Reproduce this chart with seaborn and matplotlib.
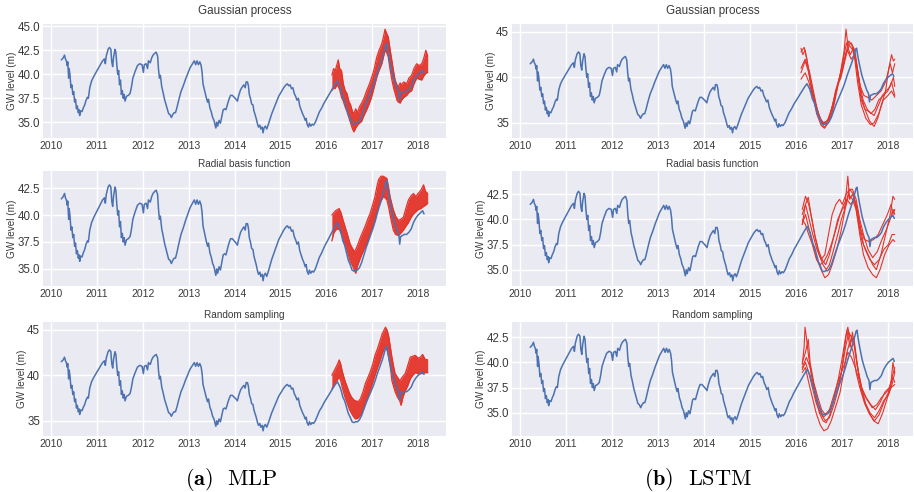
import matplotlib
matplotlib.use("Agg")
import matplotlib.pyplot as plt
import seaborn as sns
import pandas as pd
from matplotlib.ticker import MultipleLocator, FormatStrFormatter

# ---------------- observed groundwater level (blue) ----------------
obs_t = [2010.22, 2010.26, 2010.29, 2010.31, 2010.33, 2010.35, 2010.36, 2010.38, 2010.39, 2010.41,
         2010.43, 2010.45, 2010.47, 2010.49, 2010.51, 2010.53, 2010.55, 2010.57, 2010.59, 2010.61,
         2010.62, 2010.64, 2010.67, 2010.70, 2010.73, 2010.76, 2010.79, 2010.81, 2010.84, 2010.88,
         2010.93, 2011.00, 2011.06, 2011.12, 2011.16, 2011.18, 2011.20, 2011.24, 2011.27, 2011.30,
         2011.32, 2011.34, 2011.36, 2011.39, 2011.41, 2011.43, 2011.45, 2011.47, 2011.49, 2011.51,
         2011.53, 2011.55, 2011.57, 2011.59, 2011.61, 2011.64, 2011.68, 2011.72, 2011.75, 2011.78,
         2011.83, 2011.88, 2011.93, 2011.98, 2012.01, 2012.03, 2012.07, 2012.10, 2012.12, 2012.16,
         2012.19, 2012.22, 2012.26, 2012.29, 2012.32, 2012.34, 2012.36, 2012.38, 2012.41, 2012.44,
         2012.47, 2012.50, 2012.53, 2012.56, 2012.59, 2012.62, 2012.65, 2012.68, 2012.71, 2012.74,
         2012.78, 2012.83, 2012.88, 2012.93, 2012.98, 2013.03, 2013.08, 2013.12, 2013.15, 2013.18,
         2013.21, 2013.24, 2013.27, 2013.29, 2013.31, 2013.33, 2013.36, 2013.38, 2013.41, 2013.43,
         2013.46, 2013.49, 2013.52, 2013.55, 2013.57, 2013.59, 2013.61, 2013.63, 2013.66, 2013.69,
         2013.72, 2013.75, 2013.78, 2013.81, 2013.84, 2013.87, 2013.91, 2013.95, 2013.99, 2014.03,
         2014.06, 2014.09, 2014.13, 2014.17, 2014.20, 2014.23, 2014.25, 2014.28, 2014.30, 2014.32,
         2014.35, 2014.37, 2014.40, 2014.42, 2014.45, 2014.47, 2014.50, 2014.52, 2014.55, 2014.57,
         2014.60, 2014.62, 2014.64, 2014.67, 2014.70, 2014.73, 2014.77, 2014.81, 2014.86, 2014.91,
         2014.96, 2015.02, 2015.07, 2015.12, 2015.15, 2015.18, 2015.21, 2015.24, 2015.27, 2015.30,
         2015.33, 2015.36, 2015.39, 2015.42, 2015.45, 2015.48, 2015.51, 2015.54, 2015.56, 2015.58,
         2015.61, 2015.63, 2015.66, 2015.69, 2015.72, 2015.76, 2015.80, 2015.85, 2015.90, 2015.95,
         2016.00, 2016.06, 2016.12, 2016.17, 2016.21, 2016.24, 2016.27, 2016.30, 2016.33, 2016.36,
         2016.40, 2016.44, 2016.48, 2016.52, 2016.56, 2016.60, 2016.64, 2016.68, 2016.72, 2016.77,
         2016.82, 2016.87, 2016.92, 2016.97, 2017.02, 2017.07, 2017.12, 2017.17, 2017.22, 2017.26,
         2017.30, 2017.32, 2017.34, 2017.37, 2017.40, 2017.43, 2017.46, 2017.50, 2017.54, 2017.58,
         2017.60, 2017.62, 2017.66, 2017.70, 2017.75, 2017.80, 2017.85, 2017.90, 2017.95, 2018.00,
         2018.05, 2018.10, 2018.13]
obs_v = [41.5, 41.7, 42.0, 41.6, 41.4, 40.9, 41.3, 39.6, 40.6, 39.9,
         38.6, 38.9, 37.9, 38.2, 37.1, 37.4, 36.4, 36.7, 36.0, 36.3,
         35.7, 36.2, 36.1, 36.5, 36.8, 37.3, 37.6, 37.5, 38.6, 39.3,
         39.8, 40.4, 40.9, 41.4, 41.6, 41.1, 41.9, 42.6, 42.8, 42.6,
         41.3, 40.8, 41.8, 42.6, 42.3, 41.0, 40.0, 40.4, 38.9, 39.4,
         37.9, 38.3, 37.5, 37.9, 37.2, 37.7, 37.8, 38.0, 38.7, 39.6,
         40.3, 40.9, 41.1, 41.0, 40.2, 41.0, 41.1, 40.6, 41.4, 41.2,
         41.7, 42.0, 42.2, 42.3, 41.9, 40.5, 39.6, 39.9, 38.7, 38.1,
         37.4, 36.9, 36.4, 35.9, 35.8, 35.5, 35.8, 36.0, 36.0, 36.5,
         37.3, 38.2, 38.8, 39.5, 40.1, 40.7, 41.1, 41.4, 41.0, 41.4,
         41.0, 41.3, 40.9, 40.2, 39.0, 38.6, 38.0, 37.6, 37.1, 37.4,
         36.5, 36.1, 35.5, 35.2, 34.8, 34.4, 35.0, 34.6, 35.2, 34.9,
         35.6, 36.3, 36.4, 36.3, 36.8, 37.3, 37.8, 37.8, 37.6, 37.4,
         37.2, 37.8, 38.4, 38.7, 38.9, 38.6, 39.2, 39.2, 38.8, 37.9,
         37.4, 36.9, 36.8, 36.2, 35.7, 35.4, 34.8, 34.5, 34.7, 34.3,
         34.5, 33.9, 34.4, 34.6, 34.3, 34.7, 35.3, 35.9, 36.5, 37.1,
         37.7, 38.2, 38.6, 38.9, 39.0, 38.8, 38.9, 38.5, 38.6, 38.0,
         37.7, 37.3, 37.5, 36.7, 36.3, 35.9, 35.6, 35.2, 35.4, 34.8,
         34.5, 34.9, 34.6, 34.8, 34.7, 35.0, 35.5, 36.1, 36.5, 37.0,
         37.4, 37.9, 38.4, 38.8, 39.1, 39.3, 39.0, 38.7, 38.2, 37.6,
         37.2, 36.5, 35.8, 35.4, 34.9, 34.8, 34.9, 34.9, 35.1, 35.6,
         36.3, 37.0, 37.6, 38.2, 38.8, 39.5, 40.3, 41.0, 41.7, 42.4,
         43.1, 43.2, 42.5, 41.7, 41.0, 40.3, 39.8, 39.2, 38.6, 38.2,
         37.3, 38.0, 38.1, 38.2, 38.2, 38.4, 38.7, 39.3, 39.7, 40.0,
         40.2, 40.4, 40.1]

# ---------------- MLP ensemble spread (red band): time, low, high ----------------
mlp_gp_t = [2016.12, 2016.16, 2016.19, 2016.23, 2016.26, 2016.29, 2016.33, 2016.37, 2016.41, 2016.45,
            2016.49, 2016.53, 2016.57, 2016.60, 2016.64, 2016.68, 2016.72, 2016.77, 2016.82, 2016.88,
            2016.94, 2016.99, 2017.04, 2017.10, 2017.15, 2017.21, 2017.25, 2017.28, 2017.32, 2017.35,
            2017.39, 2017.43, 2017.47, 2017.50, 2017.54, 2017.57, 2017.61, 2017.64, 2017.69, 2017.75,
            2017.80, 2017.86, 2017.91, 2017.97, 2018.02, 2018.08, 2018.12, 2018.17, 2018.21]
mlp_gp_lo = [38.3, 38.6, 38.5, 38.9, 38.7, 38.4, 37.6, 37.2, 36.6, 36.1,
             35.5, 34.9, 34.3, 34.0, 34.4, 34.7, 34.9, 35.1, 35.7, 36.3,
             37.0, 37.7, 38.6, 39.7, 40.4, 41.1, 41.9, 42.5, 42.2, 41.8,
             40.5, 39.4, 38.5, 38.0, 37.3, 37.1, 37.0, 37.3, 37.6, 37.8,
             38.1, 38.3, 39.0, 39.6, 39.5, 39.4, 39.8, 40.1, 40.2]
mlp_gp_hi = [39.9, 40.6, 40.3, 41.0, 41.5, 40.6, 40.4, 39.0, 38.3, 38.0,
             37.2, 36.8, 36.1, 35.9, 36.4, 36.0, 36.6, 37.0, 37.5, 38.3,
             39.0, 39.7, 40.5, 41.8, 42.5, 43.2, 44.0, 44.7, 44.2, 43.9,
             42.6, 41.4, 40.2, 39.4, 38.9, 38.7, 39.1, 38.9, 39.2, 39.0,
             39.6, 39.9, 40.6, 41.1, 40.9, 41.1, 41.6, 42.5, 41.9]

mlp_rbf_t = [2016.12, 2016.16, 2016.20, 2016.24, 2016.28, 2016.32, 2016.36, 2016.41, 2016.46, 2016.52,
             2016.57, 2016.61, 2016.64, 2016.68, 2016.74, 2016.80, 2016.85, 2016.90, 2016.95, 2017.00,
             2017.06, 2017.10, 2017.14, 2017.19, 2017.24, 2017.28, 2017.32, 2017.36, 2017.39, 2017.43,
             2017.46, 2017.51, 2017.57, 2017.62, 2017.68, 2017.74, 2017.79, 2017.85, 2017.90, 2017.95,
             2018.00, 2018.06, 2018.12, 2018.16, 2018.21]
mlp_rbf_lo = [37.6, 38.3, 38.6, 38.7, 38.7, 38.3, 37.8, 37.3, 36.6, 35.7,
              35.3, 34.9, 34.6, 35.3, 36.0, 36.6, 37.1, 37.6, 38.2, 38.8,
              39.5, 40.2, 40.8, 41.3, 41.7, 41.6, 41.4, 40.7, 40.0, 39.2,
              38.6, 38.2, 38.1, 38.3, 38.6, 39.0, 39.3, 39.8, 40.1, 40.3,
              40.5, 40.6, 40.8, 40.9, 41.1]
mlp_rbf_hi = [40.0, 40.2, 40.4, 40.5, 40.6, 40.2, 39.6, 38.9, 38.2, 37.3,
              36.9, 36.6, 36.8, 37.2, 37.9, 38.5, 39.0, 39.6, 40.1, 40.8,
              41.7, 42.6, 43.3, 43.6, 43.6, 43.5, 43.4, 42.5, 41.7, 41.0,
              40.5, 39.9, 39.5, 39.6, 39.8, 40.7, 41.4, 41.8, 42.0, 41.7,
              42.0, 42.3, 42.8, 42.2, 42.0]

mlp_rs_t = [2016.12, 2016.16, 2016.20, 2016.24, 2016.28, 2016.31, 2016.35, 2016.40, 2016.45, 2016.50,
            2016.55, 2016.60, 2016.64, 2016.69, 2016.74, 2016.80, 2016.85, 2016.90, 2016.95, 2017.01,
            2017.06, 2017.12, 2017.17, 2017.22, 2017.26, 2017.29, 2017.33, 2017.36, 2017.40, 2017.43,
            2017.47, 2017.50, 2017.55, 2017.60, 2017.63, 2017.67, 2017.72, 2017.77, 2017.83, 2017.88,
            2017.94, 2018.00, 2018.05, 2018.10, 2018.15, 2018.21]
mlp_rs_lo = [38.5, 38.9, 39.3, 39.5, 39.8, 39.5, 38.6, 37.7, 37.0, 36.3,
             35.8, 35.4, 35.2, 35.3, 35.6, 36.2, 36.9, 37.6, 38.3, 39.2,
             40.0, 40.9, 41.6, 42.4, 42.9, 43.1, 42.7, 42.0, 40.7, 39.4,
             38.7, 38.2, 37.6, 37.2, 36.7, 37.6, 38.3, 38.8, 39.6, 40.0,
             40.3, 40.2, 40.2, 40.2, 40.3, 40.3]
mlp_rs_hi = [40.0, 40.4, 40.8, 41.2, 41.7, 41.3, 40.4, 39.5, 38.8, 38.1,
             37.6, 37.3, 37.2, 37.1, 37.4, 38.2, 39.1, 39.7, 40.3, 41.2,
             42.2, 43.0, 43.8, 44.6, 45.0, 45.3, 44.9, 44.3, 43.0, 42.0,
             40.9, 40.2, 39.8, 39.4, 39.6, 39.9, 40.2, 41.0, 42.0, 42.1,
             42.2, 41.9, 42.0, 42.3, 41.8, 41.7]

# ---------------- LSTM ensemble members (red lines) ----------------
lstm_gp_t = [
    [2016.11, 2016.15, 2016.20, 2016.25, 2016.30, 2016.38, 2016.45, 2016.55, 2016.62, 2016.70, 2016.78,
     2016.88, 2016.97, 2017.05, 2017.09, 2017.13, 2017.20, 2017.28, 2017.35, 2017.42, 2017.50, 2017.60,
     2017.70, 2017.78, 2017.86, 2017.95, 2018.02, 2018.08, 2018.12, 2018.15],
    [2016.11, 2016.20, 2016.28, 2016.36, 2016.45, 2016.55, 2016.63, 2016.72, 2016.80, 2016.90, 2017.00,
     2017.08, 2017.16, 2017.24, 2017.30, 2017.38, 2017.46, 2017.55, 2017.63, 2017.72, 2017.80, 2017.90,
     2018.00, 2018.08, 2018.15],
    [2016.11, 2016.18, 2016.24, 2016.30, 2016.40, 2016.50, 2016.58, 2016.68, 2016.78, 2016.86, 2016.95,
     2017.03, 2017.10, 2017.18, 2017.25, 2017.32, 2017.40, 2017.48, 2017.56, 2017.65, 2017.75, 2017.85,
     2017.95, 2018.05, 2018.10, 2018.15],
    [2016.11, 2016.20, 2016.28, 2016.35, 2016.45, 2016.55, 2016.62, 2016.70, 2016.78, 2016.85, 2016.93,
     2017.02, 2017.08, 2017.15, 2017.22, 2017.28, 2017.34, 2017.42, 2017.52, 2017.62, 2017.70, 2017.80,
     2017.90, 2018.00, 2018.08, 2018.15],
    [2016.11, 2016.20, 2016.27, 2016.33, 2016.43, 2016.52, 2016.60, 2016.70, 2016.80, 2016.90, 2016.98,
     2017.05, 2017.12, 2017.20, 2017.28, 2017.35, 2017.42, 2017.50, 2017.60, 2017.70, 2017.80, 2017.88,
     2017.96, 2018.05, 2018.12, 2018.15],
]
lstm_gp_v = [
    [43.2, 42.5, 43.0, 41.5, 40.5, 38.5, 36.8, 35.0, 34.5, 35.0, 36.0,
     38.5, 40.5, 43.0, 45.3, 43.5, 43.8, 43.0, 40.5, 38.0, 36.5, 35.2,
     34.6, 35.5, 37.0, 38.5, 41.0, 42.5, 41.8, 42.0],
    [39.8, 40.5, 39.5, 38.0, 36.5, 35.3, 34.8, 35.5, 37.0, 39.0, 41.0,
     42.5, 43.5, 43.0, 42.0, 39.5, 37.5, 36.5, 36.0, 36.5, 37.5, 38.0,
     38.5, 39.5, 38.0],
    [42.8, 43.3, 42.0, 40.0, 37.5, 35.8, 34.9, 35.2, 36.5, 38.5, 40.0,
     42.0, 43.8, 42.5, 43.2, 41.5, 39.0, 38.0, 37.8, 37.5, 38.0, 38.5,
     39.5, 41.5, 40.5, 41.5],
    [40.5, 41.8, 40.5, 38.5, 36.0, 34.7, 34.4, 35.0, 36.0, 37.5, 39.5,
     41.0, 42.5, 44.0, 43.5, 42.0, 39.5, 37.0, 35.5, 34.8, 35.0, 36.0,
     37.5, 38.0, 38.5, 37.8],
    [41.0, 42.0, 41.0, 39.0, 37.0, 35.5, 35.0, 35.3, 37.0, 39.0, 40.0,
     41.5, 43.0, 42.0, 42.5, 40.0, 37.5, 36.5, 36.2, 35.8, 37.0, 38.0,
     38.5, 39.0, 40.0, 39.0],
]

lstm_rbf_t = [
    [2016.13, 2016.20, 2016.27, 2016.34, 2016.42, 2016.50, 2016.58, 2016.65, 2016.72, 2016.80, 2016.90,
     2016.98, 2017.05, 2017.12, 2017.16, 2017.22, 2017.30, 2017.38, 2017.46, 2017.56, 2017.66, 2017.74,
     2017.84, 2017.94, 2018.04, 2018.10, 2018.14],
    [2016.13, 2016.20, 2016.28, 2016.36, 2016.45, 2016.54, 2016.62, 2016.70, 2016.78, 2016.88, 2016.98,
     2017.06, 2017.14, 2017.22, 2017.30, 2017.38, 2017.46, 2017.56, 2017.66, 2017.74, 2017.82, 2017.92,
     2018.02, 2018.10, 2018.14],
    [2016.13, 2016.20, 2016.28, 2016.36, 2016.45, 2016.54, 2016.62, 2016.70, 2016.78, 2016.86, 2016.94,
     2017.00, 2017.08, 2017.16, 2017.24, 2017.32, 2017.40, 2017.48, 2017.58, 2017.68, 2017.78, 2017.88,
     2017.98, 2018.06, 2018.10, 2018.14],
    [2016.13, 2016.20, 2016.27, 2016.35, 2016.44, 2016.52, 2016.60, 2016.68, 2016.76, 2016.86, 2016.95,
     2017.03, 2017.10, 2017.18, 2017.26, 2017.34, 2017.42, 2017.50, 2017.60, 2017.70, 2017.80, 2017.90,
     2018.00, 2018.08, 2018.14],
    [2016.13, 2016.20, 2016.26, 2016.32, 2016.40, 2016.48, 2016.56, 2016.64, 2016.72, 2016.80, 2016.90,
     2017.00, 2017.08, 2017.15, 2017.22, 2017.30, 2017.38, 2017.46, 2017.56, 2017.66, 2017.76, 2017.86,
     2017.96, 2018.04, 2018.10, 2018.14],
]
lstm_rbf_v = [
    [41.0, 42.3, 41.5, 40.0, 38.0, 36.5, 35.5, 35.0, 35.5, 36.8, 38.5,
     40.0, 41.0, 44.3, 42.0, 42.5, 41.5, 39.5, 37.5, 36.5, 35.5, 35.0,
     36.5, 38.5, 40.5, 42.3, 42.0],
    [39.5, 40.5, 39.0, 37.5, 36.0, 35.0, 34.2, 34.5, 35.5, 37.0, 39.0,
     41.0, 42.5, 42.0, 41.0, 38.5, 36.5, 35.2, 34.5, 34.2, 35.0, 36.5,
     37.5, 38.0, 37.8],
    [40.5, 41.5, 40.0, 38.5, 37.0, 36.0, 36.5, 38.5, 40.5, 41.5, 42.0,
     41.5, 42.5, 43.0, 42.5, 41.0, 39.0, 38.0, 37.8, 38.0, 38.5, 39.5,
     40.5, 41.5, 40.5, 41.0],
    [40.0, 39.5, 38.5, 37.5, 36.0, 35.5, 35.8, 36.5, 37.5, 39.0, 40.5,
     41.5, 42.0, 41.5, 42.0, 40.0, 38.0, 37.0, 36.0, 35.5, 36.0, 37.0,
     37.5, 38.5, 38.5],
    [39.5, 41.5, 42.2, 40.5, 38.5, 37.0, 36.0, 35.5, 36.5, 38.0, 40.0,
     41.0, 41.5, 43.0, 43.0, 42.0, 40.0, 38.5, 37.0, 36.2, 36.8, 38.0,
     39.0, 40.0, 41.0, 40.5],
]

lstm_rs_t = [
    [2016.13, 2016.17, 2016.19, 2016.22, 2016.27, 2016.34, 2016.42, 2016.50, 2016.58, 2016.65, 2016.73,
     2016.82, 2016.92, 2017.00, 2017.07, 2017.12, 2017.18, 2017.25, 2017.32, 2017.40, 2017.50, 2017.60,
     2017.70, 2017.80, 2017.90, 2018.00, 2018.08, 2018.14],
    [2016.13, 2016.20, 2016.27, 2016.35, 2016.43, 2016.52, 2016.60, 2016.68, 2016.76, 2016.85, 2016.95,
     2017.03, 2017.10, 2017.16, 2017.24, 2017.30, 2017.38, 2017.48, 2017.58, 2017.68, 2017.78, 2017.88,
     2017.98, 2018.06, 2018.14],
    [2016.13, 2016.20, 2016.26, 2016.30, 2016.38, 2016.47, 2016.55, 2016.63, 2016.72, 2016.80, 2016.90,
     2016.98, 2017.05, 2017.10, 2017.17, 2017.22, 2017.28, 2017.35, 2017.42, 2017.52, 2017.62, 2017.72,
     2017.82, 2017.92, 2018.02, 2018.10, 2018.14],
    [2016.13, 2016.20, 2016.27, 2016.35, 2016.43, 2016.52, 2016.60, 2016.70, 2016.80, 2016.90, 2016.98,
     2017.06, 2017.12, 2017.20, 2017.28, 2017.35, 2017.45, 2017.55, 2017.65, 2017.75, 2017.85, 2017.95,
     2018.05, 2018.10, 2018.14],
    [2016.13, 2016.22, 2016.30, 2016.38, 2016.46, 2016.55, 2016.63, 2016.72, 2016.82, 2016.92, 2017.00,
     2017.07, 2017.14, 2017.20, 2017.27, 2017.33, 2017.42, 2017.50, 2017.60, 2017.70, 2017.80, 2017.90,
     2018.00, 2018.08, 2018.14],
]
lstm_rs_v = [
    [39.8, 41.5, 43.5, 42.5, 40.5, 38.5, 36.5, 35.0, 34.2, 34.0, 34.8,
     36.5, 38.5, 40.5, 42.5, 43.5, 42.0, 42.5, 40.0, 37.5, 35.8, 34.8,
     34.2, 34.8, 36.0, 37.0, 38.5, 39.5],
    [39.0, 39.5, 38.0, 36.5, 35.0, 33.8, 33.2, 33.4, 34.2, 35.5, 37.0,
     39.0, 41.0, 42.0, 41.0, 39.0, 37.5, 36.0, 35.0, 34.2, 33.9, 35.0,
     36.5, 37.5, 37.8],
    [40.0, 41.0, 42.3, 40.0, 38.0, 36.5, 35.3, 34.8, 35.3, 36.5, 38.0,
     39.0, 41.5, 43.2, 41.5, 43.0, 41.0, 39.0, 37.5, 36.5, 35.8, 35.3,
     36.0, 37.0, 37.5, 38.5, 38.0],
    [39.3, 40.0, 39.0, 37.5, 36.0, 35.0, 34.6, 35.0, 36.0, 37.5, 39.0,
     40.0, 41.0, 40.5, 39.5, 38.5, 37.0, 36.2, 35.5, 35.8, 36.5, 37.0,
     37.5, 40.0, 39.0],
    [39.5, 40.5, 39.5, 37.8, 36.2, 34.8, 34.2, 34.5, 35.8, 37.5, 39.5,
     41.5, 43.0, 42.5, 41.5, 39.5, 37.5, 36.0, 35.0, 34.5, 35.2, 36.2,
     36.8, 37.8, 39.0],
]

titles = ["Gaussian process", "Radial basis function", "Random sampling"]
ytick_steps_mlp = [2.5, 2.5, 5]
ytick_steps_lstm = [5, 2.5, 2.5]

# ---------------- style ----------------
sns.set_style("darkgrid", {"axes.facecolor": "#EAEAF2", "grid.color": "white"})
plt.rcParams["font.family"] = ["Liberation Sans", "DejaVu Sans"]
plt.rcParams["mathtext.fontset"] = "cm"

BLUE = "#4C72B0"
RED = "#E3342A"
TXT = "#3a3a3a"

fig = plt.figure(figsize=(9.14, 4.92), dpi=100)
W, H = 914.0, 492.0
rows_px = [(24, 138), (171, 286), (322, 436)]
cols_px = [(43, 446), (512, 913)]

obs_df = pd.DataFrame({"t": obs_t, "v": obs_v})
mlp_bands = [(mlp_gp_t, mlp_gp_lo, mlp_gp_hi),
             (mlp_rbf_t, mlp_rbf_lo, mlp_rbf_hi),
             (mlp_rs_t, mlp_rs_lo, mlp_rs_hi)]
lstm_runs = [(lstm_gp_t, lstm_gp_v), (lstm_rbf_t, lstm_rbf_v), (lstm_rs_t, lstm_rs_v)]


def make_ax(r, c):
    (y0, y1), (x0, x1) = rows_px[r], cols_px[c]
    return fig.add_axes([x0 / W, 1 - y1 / H, (x1 - x0) / W, (y1 - y0) / H])


def finish(ax, r, step):
    ax.set_title(titles[r], fontsize=8.4 if r == 0 else 7.2, color=TXT,
                 pad=7 if r == 0 else 2.8)
    ax.set_xlabel("")
    ax.set_ylabel("GW level (m)", fontsize=7.2, color=TXT, labelpad=0.5)
    ax.xaxis.set_major_locator(MultipleLocator(1))
    ax.xaxis.set_major_formatter(FormatStrFormatter("%d"))
    ax.yaxis.set_major_locator(MultipleLocator(step))
    if step == 5:
        ax.yaxis.set_major_formatter(FormatStrFormatter("%d"))
    else:
        ax.yaxis.set_major_formatter(FormatStrFormatter("%.1f"))
    ax.tick_params(axis="x", labelsize=7.5, colors=TXT, pad=2.5, length=0)
    ax.tick_params(axis="y", labelsize=8.3, colors=TXT, pad=2, length=0)
    ax.grid(True, color="white", linewidth=1.0)
    for s in ax.spines.values():
        s.set_visible(False)


for r in range(3):
    # MLP column
    ax = make_ax(r, 0)
    t, lo, hi = mlp_bands[r]
    ax.fill_between(t, lo, hi, color=RED, linewidth=0, alpha=0.95, zorder=2)
    band_df = pd.DataFrame({"t": t, "lo": lo, "hi": hi})
    sns.lineplot(data=band_df, x="t", y="lo", ax=ax, color=RED, lw=0.9, sort=False,
                 estimator=None, zorder=2)
    sns.lineplot(data=band_df, x="t", y="hi", ax=ax, color=RED, lw=0.9, sort=False,
                 estimator=None, zorder=2)
    sns.lineplot(data=obs_df, x="t", y="v", ax=ax, color=BLUE, lw=1.1, sort=False,
                 estimator=None, zorder=3)
    finish(ax, r, ytick_steps_mlp[r])

    # LSTM column
    ax = make_ax(r, 1)
    ts, vs = lstm_runs[r]
    for tt, vv in zip(ts, vs):
        run_df = pd.DataFrame({"t": tt, "v": vv})
        sns.lineplot(data=run_df, x="t", y="v", ax=ax, color=RED, lw=0.8, sort=False,
                     estimator=None, zorder=2)
    sns.lineplot(data=obs_df, x="t", y="v", ax=ax, color=BLUE, lw=1.1, sort=False,
                 estimator=None, zorder=3)
    finish(ax, r, ytick_steps_lstm[r])

# captions
fig.text(213 / W, 1 - 485 / H, r"$\mathbf{(a)}$", fontsize=16, ha="right", va="baseline", color="black")
fig.text(227 / W, 1 - 485 / H, r"$\mathrm{MLP}$", fontsize=16, ha="left", va="baseline", color="black")
fig.text(673 / W, 1 - 485 / H, r"$\mathbf{(b)}$", fontsize=16, ha="right", va="baseline", color="black")
fig.text(688 / W, 1 - 485 / H, r"$\mathrm{LSTM}$", fontsize=16, ha="left", va="baseline", color="black")

fig.savefig("out.png", dpi=100, facecolor="white")
